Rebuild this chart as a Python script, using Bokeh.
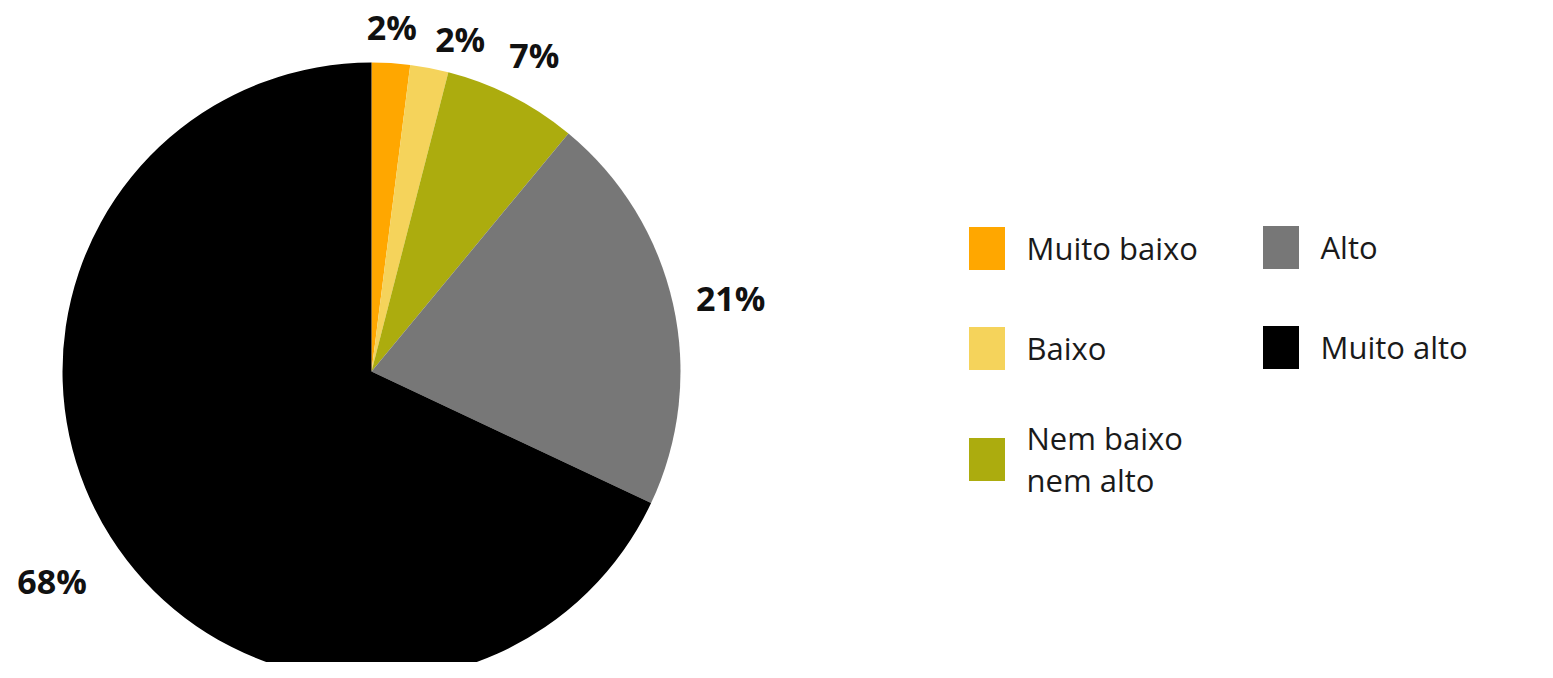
import math
from bokeh.plotting import figure
from bokeh.models import Range1d, Legend, LegendItem, ColumnDataSource
from bokeh.embed import file_html
from bokeh.resources import INLINE

categories = ["Muito baixo", "Baixo", "Nem baixo\nnem alto", "Alto", "Muito alto"]
values = [2, 2, 7, 21, 68]
labels = ["2%", "2%", "7%", "21%", "68%"]
colors = ["#FFA700", "#F5D35B", "#ACAC0E", "#777777", "#000000"]

W, H = 1537, 662
CX, CY, R = 371, 291, 309

p = figure(width=W, height=H, x_range=Range1d(0, W), y_range=Range1d(0, H),
           x_axis_type=None, y_axis_type=None, output_backend="svg",
           toolbar_location=None, min_border=0)
p.grid.visible = False
p.outline_line_color = None

total = sum(values)
starts, ends, mids = [], [], []
cum = 0
for v in values:
    a0 = math.pi / 2 - 2 * math.pi * cum / total
    cum += v
    a1 = math.pi / 2 - 2 * math.pi * cum / total
    starts.append(a0)
    ends.append(a1)
    mids.append((a0 + a1) / 2)

src = ColumnDataSource(dict(start=starts, end=ends, color=colors, cat=categories))
wr = p.wedge(x=CX, y=CY, radius=R, start_angle="start", end_angle="end",
             direction="clock", fill_color="color", line_color=None, source=src)

# label layout (radius from centre, pixel nudges)
lab_r = [340, 340, 352, 366, 383]
lab_dx = [-1, 25, 3, 2, 4]
lab_dy = [5, -1, 3, -6, -4]
lx = [CX + lab_r[i] * math.cos(mids[i]) + lab_dx[i] for i in range(len(values))]
ly = [CY + lab_r[i] * math.sin(mids[i]) + lab_dy[i] for i in range(len(values))]
p.text(x=lx, y=ly, text=labels, text_align="center", text_baseline="middle",
       text_font_size="34px", text_font_style="bold", text_color="#111111",
       text_font={"value": "Open Sans"})

common = dict(orientation="vertical", glyph_width=45, glyph_height=54,
              label_standoff=18, spacing=46, padding=0, margin=0,
              border_line_color=None, background_fill_alpha=0,
              label_text_font="Open Sans", label_text_font_size="31px",
              label_text_color="#1a1a1a", label_text_line_height=1.6)

def make_legend(idx, loc):
    return Legend(items=[LegendItem(label=categories[i], renderers=[wr], index=i) for i in idx],
                  location=loc, **common)

p.add_layout(make_legend([0, 1], (963.5, 287.4)), "center")
p.add_layout(make_legend([2], (963.5, 161.5)), "center")
p.add_layout(make_legend([3, 4], (1257.5, 287.6)), "center")

open("out.html", "w").write(file_html(p, INLINE))
